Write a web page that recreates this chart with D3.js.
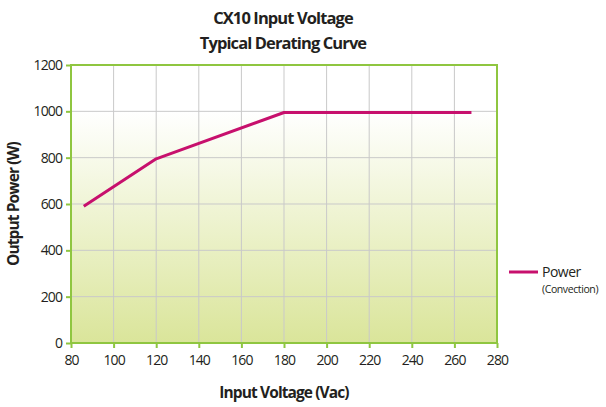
<!DOCTYPE html>
<html lang="en">
<head>
<meta charset="UTF-8">
<script src="https://d3js.org/d3.v7.min.js"></script>
<style>
  * { margin: 0; padding: 0; }
  body { background: #fff; width: 606px; height: 407px; overflow: hidden; }
  text { font-family: "Open Sans", sans-serif; fill: #231f20; }
</style>
</head>
<body>
<svg id="chart" width="606" height="407"></svg>
<script>
// data
const voltage = [86, 120, 180, 268];
const power = [590, 795, 995, 995];
const xTicks = [80, 100, 120, 140, 160, 180, 200, 220, 240, 260, 280];
const yTicks = [0, 200, 400, 600, 800, 1000, 1200];

const plotLeft = 71, plotRight = 497, plotTop = 65, plotBottom = 343;
const svg = d3.select('#chart');

const x = d3.scaleLinear().domain([80, 280]).range([plotLeft, plotRight]);
const y = d3.scaleLinear().domain([0, 1200]).range([plotBottom, plotTop]);

// background gradient: white above 1000 W, fading to pale green
const defs = svg.append('defs');
const grad = defs.append('linearGradient')
  .attr('id', 'bg').attr('x1', 0).attr('y1', 0).attr('x2', 0).attr('y2', 1);
grad.append('stop').attr('offset', 0).attr('stop-color', '#ffffff');
grad.append('stop').attr('offset', (y(1000) - plotTop) / (plotBottom - plotTop)).attr('stop-color', '#ffffff');
grad.append('stop').attr('offset', 1).attr('stop-color', '#dae59a');

svg.append('rect')
  .attr('x', plotLeft).attr('y', plotTop)
  .attr('width', plotRight - plotLeft).attr('height', plotBottom - plotTop)
  .attr('fill', 'url(#bg)');

// grid
svg.append('g').selectAll('line').data(xTicks.slice(1, -1)).enter().append('line')
  .attr('x1', d => x(d)).attr('x2', d => x(d))
  .attr('y1', plotTop).attr('y2', plotBottom)
  .attr('stroke', '#c9c9c9').attr('stroke-width', 1);
svg.append('g').selectAll('line').data(yTicks.slice(1, -1)).enter().append('line')
  .attr('x1', plotLeft).attr('x2', plotRight)
  .attr('y1', d => y(d)).attr('y2', d => y(d))
  .attr('stroke', '#c9c9c9').attr('stroke-width', 1);

// border
svg.append('rect')
  .attr('x', plotLeft).attr('y', plotTop)
  .attr('width', plotRight - plotLeft).attr('height', plotBottom - plotTop)
  .attr('fill', 'none').attr('stroke', '#8fc640').attr('stroke-width', 2);

// axes
const xAxis = svg.append('g')
  .attr('transform', 'translate(0,' + plotBottom + ')')
  .call(d3.axisBottom(x).tickValues(xTicks).tickFormat(d3.format('d')).tickSize(5).tickPadding(7));
const yAxis = svg.append('g')
  .attr('transform', 'translate(' + plotLeft + ',0)')
  .call(d3.axisLeft(y).tickValues(yTicks).tickFormat(d3.format('d')).tickSize(5).tickPadding(4));

[xAxis, yAxis].forEach(a => {
  a.select('.domain').remove();
  a.selectAll('line').attr('stroke', '#8fc640').attr('stroke-width', 2);
  a.selectAll('text')
    .style('font-family', '"Open Sans", sans-serif')
    .style('font-size', '14px')
    .attr('fill', '#231f20')
    .attr('letter-spacing', '-0.9');
});

// line
const line = d3.line().x((d, i) => x(voltage[i])).y(d => y(d));
svg.append('path')
  .datum(power)
  .attr('d', line)
  .attr('fill', 'none')
  .attr('stroke', '#c7106d')
  .attr('stroke-width', 3)
  .attr('stroke-linejoin', 'round');

// titles
svg.append('text').attr('x', 283).attr('y', 24)
  .attr('text-anchor', 'middle')
  .style('font-weight', 'bold').style('font-size', '16.5px')
  .attr('letter-spacing', '-0.9')
  .text('CX10 Input Voltage');
svg.append('text').attr('x', 283).attr('y', 49)
  .attr('text-anchor', 'middle')
  .style('font-weight', 'bold').style('font-size', '16.5px')
  .attr('letter-spacing', '-0.9')
  .text('Typical Derating Curve');

svg.append('text').attr('x', 284).attr('y', 398)
  .attr('text-anchor', 'middle')
  .style('font-weight', 'bold').style('font-size', '15.5px')
  .attr('letter-spacing', '-0.9')
  .text('Input Voltage (Vac)');

svg.append('text')
  .attr('transform', 'translate(19,204) rotate(-90)')
  .attr('text-anchor', 'middle')
  .style('font-weight', 'bold').style('font-size', '15.5px')
  .attr('letter-spacing', '-0.9')
  .text('Output Power (W)');

// legend
svg.append('line')
  .attr('x1', 509).attr('x2', 538).attr('y1', 272).attr('y2', 272)
  .attr('stroke', '#c7106d').attr('stroke-width', 3);
svg.append('text').attr('x', 542).attr('y', 277)
  .style('font-size', '14px').attr('letter-spacing', '-0.5')
  .text('Power');
svg.append('text').attr('x', 542).attr('y', 293)
  .style('font-size', '10.5px').attr('letter-spacing', '-0.4')
  .text('(Convection)');
</script>
</body>
</html>
